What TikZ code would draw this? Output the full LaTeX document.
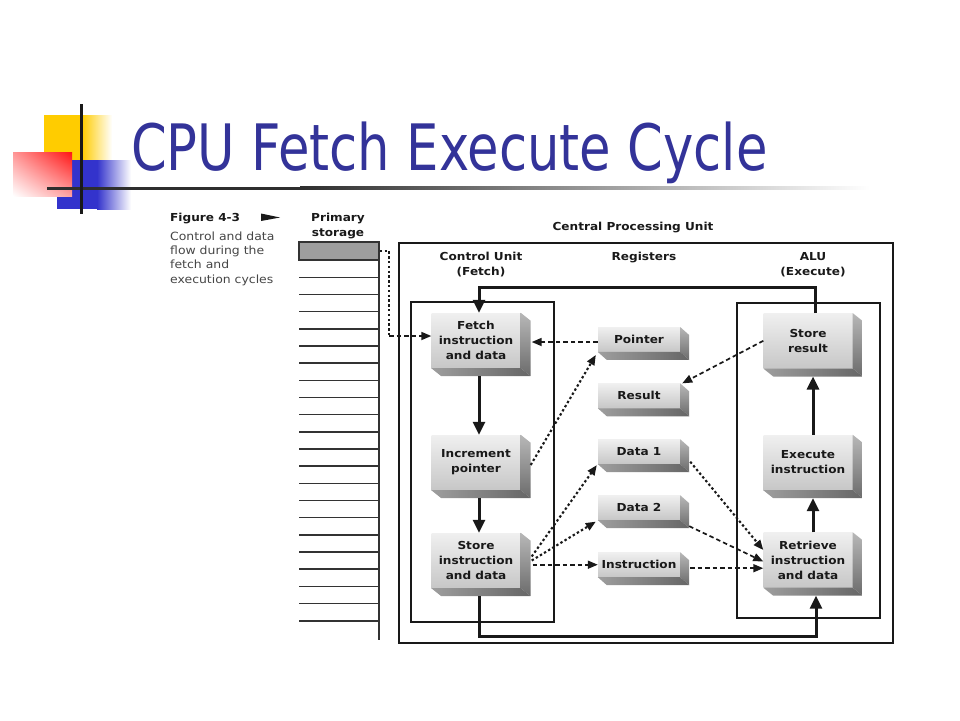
\documentclass[tikz,border=0pt]{standalone}
\usepackage{fontspec}
\usepackage{graphicx}
\usetikzlibrary{arrows.meta,shadings}
\newfontfamily\dfont[FakeStretch=1.1]{DejaVu Sans}
\newfontfamily\tfont[FakeStretch=0.8]{DejaVu Sans}
\definecolor{titleblue}{RGB}{51,51,153}
\definecolor{cyel}{RGB}{255,204,0}
\definecolor{cblue}{RGB}{51,51,204}
\definecolor{cred}{RGB}{255,20,20}
\definecolor{ink}{RGB}{25,25,25}
\definecolor{captgray}{RGB}{70,70,70}
\newcommand\mkside[3]{%
  \shade[top color=black!28, bottom color=black!58] (#1.north east) -- ++(#2,#3) -- ([shift={(#2,#3)}]#1.south east) -- (#1.south east) -- cycle;
  \shade[left color=black!38, right color=black!60] (#1.south west) -- (#1.south east) -- ++(#2,#3) -- ([shift={(#2,#3)}]#1.south west) -- cycle;
}
\begin{document}
\begin{tikzpicture}[x=1pt,y=-1pt,
  face/.style={rectangle, inner sep=0pt, align=center,
    font=\dfont\bfseries\fontsize{11}{15}\selectfont,
    top color=black!6, bottom color=black!22, text=ink},
  bigbox/.style={face, minimum width=89pt, minimum height=55pt},
  regbox/.style={face, minimum width=82pt, minimum height=24.5pt},
  head/.style={font=\dfont\bfseries\fontsize{11}{15}\selectfont, align=center, text=ink, inner sep=0pt},
  capt/.style={font=\dfont\fontsize{11.3}{14.3}\selectfont, align=left, text=captgray, inner sep=0pt},
  frame/.style={draw=ink, line width=1.6pt},
  stor/.style={draw=black!80, line width=1.6pt},
  flow/.style={draw=ink, line width=3pt, -{Triangle[length=13pt,width=12pt]}},
  dsh/.style={draw=ink, line width=1.7pt, dash pattern=on 4.5pt off 3pt, -{Triangle[length=10pt,width=8pt]}},
  dotf/.style={draw=ink, line width=2.1pt, dash pattern=on 2.4pt off 2.4pt, -{Triangle[length=10pt,width=8pt]}},
]
\useasboundingbox (0,0) rectangle (960,720);
\fill[white] (0,0) rectangle (960,720);

% decoration
\fill[cyel] (44,115) rectangle (82,160);
\shade[left color=cyel, right color=white] (82,115) rectangle (112,160);
\fill[cblue] (57,160) rectangle (97,209);
\shade[left color=cblue, right color=white] (97,160) rectangle (131,209);
\shade[upper right=cred, upper left=cred!45, lower right=cred!40, lower left=white] (13,152) rectangle (72,196);
\fill[black!82] (47,186.5) rectangle (300,189.8);
\shade[left color=black!82, right color=white] (300,186.5) rectangle (870,189.8);
\fill[ink] (79.5,104) rectangle (82.5,214);

% title
\node[anchor=base west, inner sep=0pt, text=titleblue, font=\tfont\fontsize{64}{70}\selectfont] (title) at (131,170) {CPU Fetch Execute Cycle};

% caption
\node[head, anchor=base west] (fig) at (170,221) {Figure 4-3};
\fill[ink] (261,213.5) -- (280,217.5) -- (261,221) -- cycle;
\node[capt, anchor=base west] (caption) at (170,283) {Control and data\\flow during the\\fetch and\\execution cycles};

% primary storage
\node[head, anchor=base] (ps) at (338,236) {Primary\\storage};
\node[rectangle, draw=black!80, line width=1.6pt, fill=black!38, minimum width=80pt, minimum height=18pt, inner sep=0pt] (cell) at (339,251) {};
\foreach \k in {0,...,20} \draw[stor] (299,277.3+17.17*\k) -- ++(80,0);
\draw[stor] (379,242) -- (379,640);

% CPU frames
\draw[frame] (399,243) rectangle (893,643);
\draw[frame] (411,302) rectangle (554,622);
\draw[frame] (737,303) rectangle (880,618);
\node[head, anchor=base] (cpu) at (633,230.5) {Central Processing Unit};
\node[head, anchor=base] (cu) at (481,275.5) {Control Unit\\(Fetch)};
\node[head, anchor=base] (regs) at (644,260.5) {Registers};
\node[head, anchor=base] (alu) at (813,275.5) {ALU\\(Execute)};

% boxes
\node[bigbox] (fetch) at (476,340.5) {Fetch\\instruction\\and data};
\node[bigbox] (incr) at (476,462.5) {Increment\\pointer};
\node[bigbox] (storei) at (476,560.5) {Store\\instruction\\and data};
\node[bigbox] (storer) at (808,340.8) {Store\\result};
\node[bigbox] (exec) at (808,462.5) {Execute\\instruction};
\node[bigbox] (retr) at (808,560) {Retrieve\\instruction\\and data};
\node[regbox] (pointer) at (639,339.5) {Pointer};
\node[regbox] (result) at (639,395.8) {Result};
\node[regbox] (data1) at (639,451.7) {Data 1};
\node[regbox] (data2) at (639,507.7) {Data 2};
\node[regbox] (instr) at (639,564.7) {Instruction};
\foreach \n in {fetch,incr,storei,storer,exec,retr} {\mkside{\n}{10}{8}}
\foreach \n in {pointer,result,data1,data2,instr} {\mkside{\n}{9}{8}}

% main flow
\draw[flow] ([xshift=3pt,yshift=-8pt]fetch.south) -- ([xshift=3pt]incr.north);
\draw[flow] ([xshift=3pt,yshift=-8pt]incr.south) -- ([xshift=3pt]storei.north);
\draw[flow] ([xshift=5pt]retr.north) -- ([xshift=5pt,yshift=-8pt]exec.south);
\draw[flow] ([xshift=5pt]exec.north) -- ([xshift=5pt,yshift=-8pt]storer.south);
\draw[flow] ([xshift=7pt]storer.north) -- ++(0,-26) -| ([xshift=3pt]fetch.north);
\draw[flow] ([xshift=3pt,yshift=-8pt]storei.south) -- ++(0,40) -| ([xshift=8pt,yshift=-8pt]retr.south);

% storage link
\coordinate (sbend) at (389,336);
\draw[draw=ink, line width=2.1pt, dash pattern=on 2.4pt off 2.4pt] (cell.east) -| (sbend);
\draw[dsh] (sbend) -- (sbend -| fetch.west);

% register links
\draw[dsh] ([yshift=-2.5pt]pointer.west) -- ([xshift=11pt,yshift=-2.5pt]fetch.east |- pointer.west);
\draw[dotf] ([xshift=10pt,yshift=-2.5pt]incr.east) -- ([xshift=-2pt,yshift=-3pt]pointer.south west);
\draw[dotf] ([xshift=11pt,yshift=4pt]storei.east) -- ([xshift=-1pt,yshift=-1pt]data1.south west);
\draw[dotf] ([xshift=11pt]storei.east) -- ([xshift=-2pt,yshift=-1.5pt]data2.south west);
\draw[dsh] ([xshift=12pt]storei.east |- instr.west) -- (instr.west);
\draw[dsh] (storer.west) -- ([xshift=2pt]result.north east);
\draw[dotf] ([xshift=10pt,yshift=-10pt]data1.east) -- ([yshift=10pt]retr.west);
\draw[dsh] ([xshift=9pt,yshift=-6pt]data2.south east) -- ([yshift=-1.5pt]retr.west);
\draw[dsh] ([xshift=10pt,yshift=-3.5pt]instr.east) -- ([yshift=-3.5pt]instr.east -| retr.west);
\end{tikzpicture}
\end{document}
